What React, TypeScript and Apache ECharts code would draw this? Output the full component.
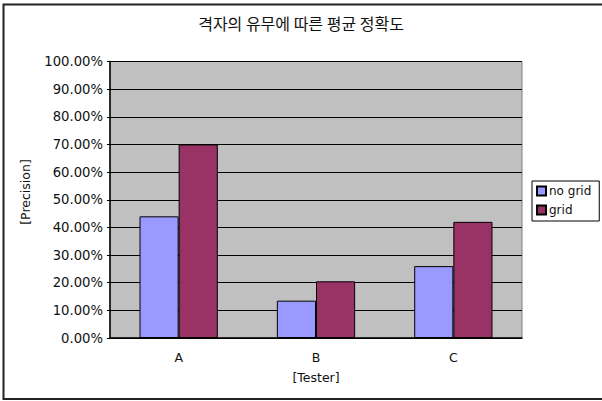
import React, { useEffect, useRef } from "react";
import * as echarts from "echarts";

const testers = ["A", "B", "C"];
const noGridPrecision = [44, 13.5, 26];
const gridPrecision = [70, 20.5, 42];
const seriesNames = ["no grid", "grid"];

const latin = "DejaVu Sans";

export default function App() {
  const ref = useRef<HTMLDivElement>(null);

  useEffect(() => {
    if (!ref.current) return;
    const chart = echarts.init(ref.current, null, { renderer: "svg" });
    chart.setOption({
      animation: false,
      backgroundColor: "#ffffff",
      title: {
        text: "격자의 유무에 따른 평균 정확도",
        left: "center",
        top: 10,
        textStyle: {
          fontFamily: "Noto Sans CJK KR",
          fontSize: 16,
          fontWeight: "normal",
          color: "#111",
        },
      },
      legend: {
        data: seriesNames,
        orient: "vertical",
        left: 532,
        top: 181,
        width: 60,
        padding: [4, 8, 5, 4],
        itemGap: 7,
        itemWidth: 9,
        itemHeight: 9,
        icon: "rect",
        borderColor: "#000",
        borderWidth: 1,
        textStyle: { fontFamily: latin, fontSize: 12, color: "#111", padding: [0, 0, 0, -2] },
      },
      grid: {
        left: 110,
        top: 61.5,
        width: 412,
        height: 276.5,
        show: true,
        backgroundColor: "#c0c0c0",
        borderColor: "#808080",
        borderWidth: 1,
      },
      xAxis: {
        type: "category",
        data: testers,
        axisLine: { lineStyle: { color: "#000", width: 1.5 } },
        axisTick: { inside: true, length: 4, lineStyle: { color: "#000" } },
        axisLabel: { fontFamily: latin, fontSize: 12.5, color: "#111", margin: 13 },
        name: "[Tester]",
        nameLocation: "middle",
        nameGap: 33,
        nameTextStyle: { fontFamily: latin, fontSize: 12.5, color: "#111" },
      },
      yAxis: {
        type: "value",
        min: 0,
        max: 100,
        interval: 10,
        axisLine: { show: true, lineStyle: { color: "#000", width: 1.5 } },
        axisTick: { show: true, length: 3, lineStyle: { color: "#000" } },
        axisLabel: {
          fontFamily: latin,
          fontSize: 13.2,
          color: "#111",
          margin: 7,
          formatter: (v: number) => `${v.toFixed(2)}%`,
        },
        splitLine: { lineStyle: { color: "#000", width: 1 } },
      },
      graphic: [
        {
          type: "rect",
          shape: { x: 3.5, y: 4.5, width: 700, height: 394.5 },
          style: { fill: "none", stroke: "#222", lineWidth: 2 },
          silent: true,
        },
        {
          type: "text",
          x: 25,
          y: 192,
          rotation: Math.PI / 2,
          style: {
            text: "[Precision]",
            fontFamily: latin,
            fontSize: 12.5,
            fill: "#111",
            align: "center",
            verticalAlign: "middle",
          },
        },
      ],
      series: [
        {
          name: seriesNames[0],
          type: "bar",
          data: noGridPrecision,
          barGap: "0%",
          barCategoryGap: "43%",
          itemStyle: { color: "#9999ff", borderColor: "#000", borderWidth: 1 },
        },
        {
          name: seriesNames[1],
          type: "bar",
          data: gridPrecision,
          barGap: "0%",
          barCategoryGap: "43%",
          itemStyle: { color: "#993366", borderColor: "#000", borderWidth: 1 },
        },
      ],
    });
    return () => chart.dispose();
  }, []);

  return <div ref={ref} style={{ width: 602, height: 401, position: "absolute", left: 0, top: 0 }} />;
}
